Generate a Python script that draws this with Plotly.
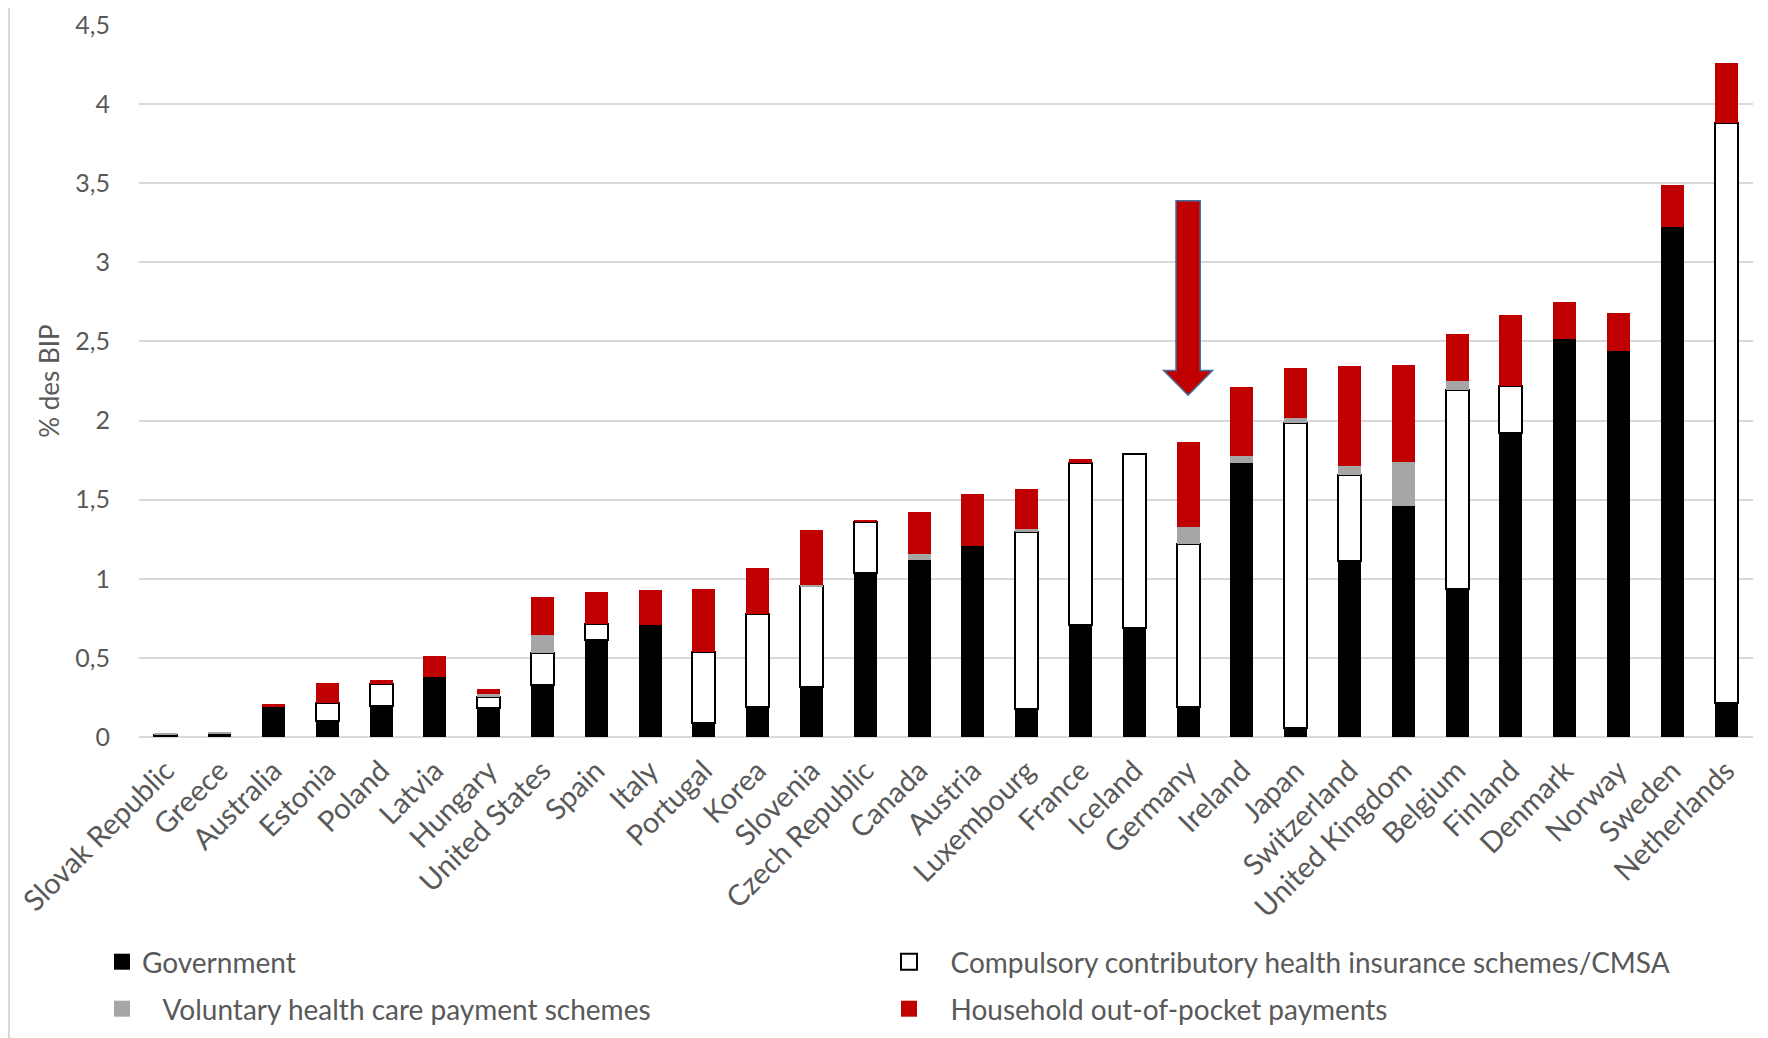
import plotly.graph_objects as go

countries = ["Slovak Republic", "Greece", "Australia", "Estonia", "Poland", "Latvia",
             "Hungary", "United States", "Spain", "Italy", "Portugal", "Korea",
             "Slovenia", "Czech Republic", "Canada", "Austria", "Luxembourg", "France",
             "Iceland", "Germany", "Ireland", "Japan", "Switzerland", "United Kingdom",
             "Belgium", "Finland", "Denmark", "Norway", "Sweden", "Netherlands"]

government = [0.005, 0.02, 0.19, 0.10, 0.195, 0.38, 0.185, 0.33, 0.614, 0.705,
              0.087, 0.19, 0.315, 1.037, 1.121, 1.208, 0.18, 0.705, 0.69, 0.19,
              1.731, 0.06, 1.112, 1.462, 0.938, 1.922, 2.515, 2.44, 3.224, 0.217]

compulsory = [0.01, 0.0, 0.0, 0.114, 0.141, 0.0, 0.065, 0.202, 0.101, 0.0,
              0.449, 0.588, 0.638, 0.322, 0.0, 0.0, 1.116, 1.029, 1.10, 1.032,
              0.0, 1.927, 0.545, 0.0, 1.255, 0.294, 0.0, 0.0, 0.0, 3.666]

voluntary = [0.005, 0.01, 0.0, 0.0, 0.0, 0.0, 0.02, 0.111, 0.0, 0.0,
             0.0, 0.0, 0.005, 0.0, 0.038, 0.0, 0.017, 0.0, 0.0, 0.103,
             0.047, 0.029, 0.057, 0.273, 0.057, 0.0, 0.0, 0.0, 0.0, 0.0]

household = [0.0, 0.0, 0.02, 0.126, 0.025, 0.134, 0.036, 0.24, 0.202, 0.222,
             0.402, 0.293, 0.351, 0.015, 0.266, 0.33, 0.257, 0.02, 0.0, 0.537,
             0.432, 0.319, 0.628, 0.616, 0.297, 0.454, 0.235, 0.24, 0.262, 0.377]

series_names = ["Government",
                "Compulsory contributory health insurance schemes/CMSA",
                "Voluntary health care payment schemes",
                "Household out-of-pocket payments"]

y_ticks = [0, 0.5, 1, 1.5, 2, 2.5, 3, 3.5, 4, 4.5]
y_title = "% des BIP"

# arrow pointing to Germany (in data units)
arrow_country = "Germany"
arrow_top, arrow_shoulder, arrow_tip = 3.39, 2.316, 2.16

TEXT = "#595959"
FONT = "Lato, 'Noto Sans', sans-serif"
NB = "\u00a0"

fills = ["#000000", "#FFFFFF", "#A6A6A6", "#C00000"]
lines = [dict(width=0), dict(color="#000000", width=2), dict(width=0), dict(width=0)]
legend_of = ["legend", "legend", "legend2", "legend2"]
pads = ["", NB * 3, NB * 3, NB * 3]


def nz(vals):
    return [v if v > 0 else None for v in vals]


fig = go.Figure()
for k, vals in enumerate([government, compulsory, voluntary, household]):
    fig.add_trace(go.Bar(x=countries, y=nz(vals), name=series_names[k],
                         marker=dict(color=fills[k], line=lines[k]),
                         showlegend=False))
# legend entries (square keys like the original)
for k in range(4):
    fig.add_trace(go.Scatter(x=[None], y=[None], mode="markers",
                             name=pads[k] + series_names[k],
                             marker=dict(symbol="square", size=16, color=fills[k],
                                         line=dict(color="#000000", width=2) if k == 1
                                         else dict(width=0)),
                             legend=legend_of[k], hoverinfo="skip"))

# page has an 8px body margin: figure coordinates = reference pixels - 8
W, H = 1760, 1030
ML, MR, MT, MB = 131, 15, 17, 301
PW, PH = W - ML - MR, H - MT - MB


def px_x(p):
    return (p - ML) / PW


def px_y(p):
    return (H - MB - p) / PH


# arrow path
i = countries.index(arrow_country)
sw, hw = 0.225, 0.455
path = (f"M {i - sw},{arrow_top} L {i + sw},{arrow_top} L {i + sw},{arrow_shoulder} "
        f"L {i + hw},{arrow_shoulder} L {i},{arrow_tip} L {i - hw},{arrow_shoulder} "
        f"L {i - sw},{arrow_shoulder} Z")

legend_common = dict(orientation="h", xanchor="left", yanchor="middle",
                     entrywidth=742, entrywidthmode="pixels",
                     font=dict(size=28, color=TEXT), bgcolor="rgba(0,0,0,0)",
                     traceorder="normal")

fig.update_layout(
    width=W, height=H,
    margin=dict(l=ML, r=MR, t=MT, b=MB, autoexpand=False),
    paper_bgcolor="#FFFFFF", plot_bgcolor="#FFFFFF",
    barmode="stack", bargap=0.57,
    separators=", ",
    font=dict(family=FONT, color=TEXT, size=26),
    xaxis=dict(type="category", tickangle=-45, tickfont=dict(size=29, color=TEXT),
               showgrid=False, showline=False, ticks="", zeroline=False,
               ticklabelstandoff=10, automargin=False, ticklabeloverflow="allow"),
    yaxis=dict(range=[0, 4.5], tickvals=y_ticks, tickformat=".1~f",
               showgrid=True, gridcolor="#D9D9D9", gridwidth=2,
               zeroline=True, zerolinecolor="#D9D9D9", zerolinewidth=2,
               showline=False, ticks="", tickfont=dict(size=25, color=TEXT),
               ticklabelstandoff=28, automargin=False, ticklabeloverflow="allow",
               title=dict(text=y_title, font=dict(size=26, color=TEXT), standoff=8)),
    legend=dict(x=px_x(94), y=px_y(954), **legend_common),
    legend2=dict(x=px_x(94), y=px_y(1001), **legend_common),
    shapes=[
        dict(type="path", xref="x", yref="y", path=path,
             fillcolor="#C00000", line=dict(color="#41719C", width=1.5), layer="above"),
        dict(type="line", xref="paper", yref="paper",
             x0=px_x(1), x1=px_x(1), y0=px_y(H), y1=px_y(0),
             line=dict(color="#D9D9D9", width=2)),
    ],
)

fig.write_html("out.html")
